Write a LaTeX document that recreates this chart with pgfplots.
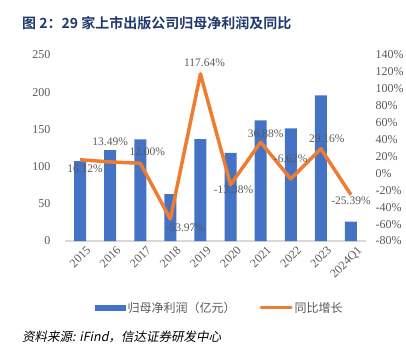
\documentclass[border=0pt]{standalone}
\usepackage{fontspec}
\setmainfont{Liberation Serif}
\newfontfamily\cjk{Noto Sans CJK SC}
\newfontfamily\cjkb{Noto Sans CJK SC Bold}
\newfontfamily\cjki[FakeSlant=0.2]{Noto Sans CJK SC}
\usepackage{pgfplots}
\pgfplotsset{compat=1.18}
\definecolor{barblue}{HTML}{4472C4}
\definecolor{lineorange}{HTML}{ED7D31}
\definecolor{txtgray}{HTML}{595959}
\definecolor{titlecol}{HTML}{1F3A6B}
\definecolor{basegray}{HTML}{D9D9D9}
\begin{document}
\begin{tikzpicture}[x=1pt,y=1pt]
\useasboundingbox (0,0) rectangle (406,-356);
\node[anchor=west, text=titlecol, inner sep=0pt, font=\cjkb\fontsize{14}{16}\selectfont] at (22,-23) {图 2：29 家上市出版公司归母净利润及同比};
\begin{axis}[
  at={(65pt,-241pt)}, anchor=south west,
  scale only axis, width=301pt, height=186pt,
  xmin=-0.5, xmax=9.5, ymin=0, ymax=250,
  ytick={0,50,...,250},
  xtick={0,...,9},
  xticklabels={2015,2016,2017,2018,2019,2020,2021,2022,2023,2024Q1},
  axis x line*=bottom, axis y line*=left,
  x axis line style={draw=basegray, line width=1.5pt, -},
  y axis line style={draw=none},
  major tick length=0pt,
  /pgf/number format/assume math mode=true,
  tick label style={font=\fontsize{12}{12}\selectfont, text=txtgray},
  yticklabel style={xshift=-11pt},
  xticklabel style={rotate=45, anchor=north east, inner sep=1pt, yshift=-6pt, xshift=2pt},
  clip=false,
]
\addplot[ybar, bar width=12pt, fill=barblue, draw=none] coordinates {
(0,107.5) (1,122.0) (2,136.6) (3,62.9) (4,136.8) (5,118.5) (6,162.1) (7,151.4) (8,195.6) (9,26.0)};
\end{axis}
\begin{axis}[
  at={(65pt,-241pt)}, anchor=south west,
  scale only axis, width=301pt, height=186pt,
  xmin=-0.5, xmax=9.5, ymin=-80, ymax=140,
  ytick={-80,-60,...,140},
  yticklabel={\pgfmathprintnumber{\tick}\%},
  axis y line*=right, axis x line=none,
  y axis line style={draw=none},
  major tick length=0pt,
  /pgf/number format/assume math mode=true,
  tick label style={font=\fontsize{12}{12}\selectfont, text=txtgray},
  yticklabel style={anchor=west, xshift=6pt},
  clip=false,
  legend style={at={(0.515,-0.36)}, anchor=center, draw=none, fill=none,
    legend columns=2, font=\cjk\fontsize{12}{12}\selectfont, text=txtgray,
    /tikz/every even column/.append style={column sep=22pt}},
]
\addlegendimage{legend image code/.code={\fill[barblue] (0pt,-2.5pt) rectangle (30pt,2.5pt);}}
\addlegendentry{归母净利润（亿元）}
\addplot[lineorange, line width=3.5pt, line join=round, mark=none,
  legend image code/.code={\draw[lineorange, line width=3pt, line cap=round] (0pt,0pt) -- (30pt,0pt);}] coordinates {
(0,16.12) (1,13.49) (2,12.00) (3,-53.97) (4,117.64) (5,-13.38) (6,36.88) (7,-6.62) (8,29.16) (9,-25.39)};
\addlegendentry{同比增长}
\begin{scope}[every node/.style={font=\fontsize{11.5}{12}\selectfont, text=txtgray, inner sep=0pt}]
\node[xshift=5pt, yshift=-9pt] at (axis cs:0,16.12) {16.12\%};
\node[xshift=0pt, yshift=20pt] at (axis cs:1,13.49) {13.49\%};
\node[xshift=7pt, yshift=11pt] at (axis cs:2,12.00) {12.00\%};
\node[xshift=15pt, yshift=-9pt] at (axis cs:3,-53.97) {-53.97\%};
\node[xshift=4pt, yshift=11pt] at (axis cs:4,117.64) {117.64\%};
\node[xshift=3pt, yshift=-5pt] at (axis cs:5,-13.38) {-13.38\%};
\node[xshift=5pt, yshift=8pt] at (axis cs:6,36.88) {36.88\%};
\node[xshift=0pt, yshift=20pt] at (axis cs:7,-6.62) {-6.62\%};
\node[xshift=6pt, yshift=10pt] at (axis cs:8,29.16) {29.16\%};
\node[xshift=0pt, yshift=-6pt] at (axis cs:9,-25.39) {-25.39\%};
\end{scope}
\end{axis}
\node[anchor=west, inner sep=0pt, font=\cjki\fontsize{12.5}{14}\selectfont] at (22,-337) {资料来源: iFind，信达证券研发中心};
\end{tikzpicture}
\end{document}
